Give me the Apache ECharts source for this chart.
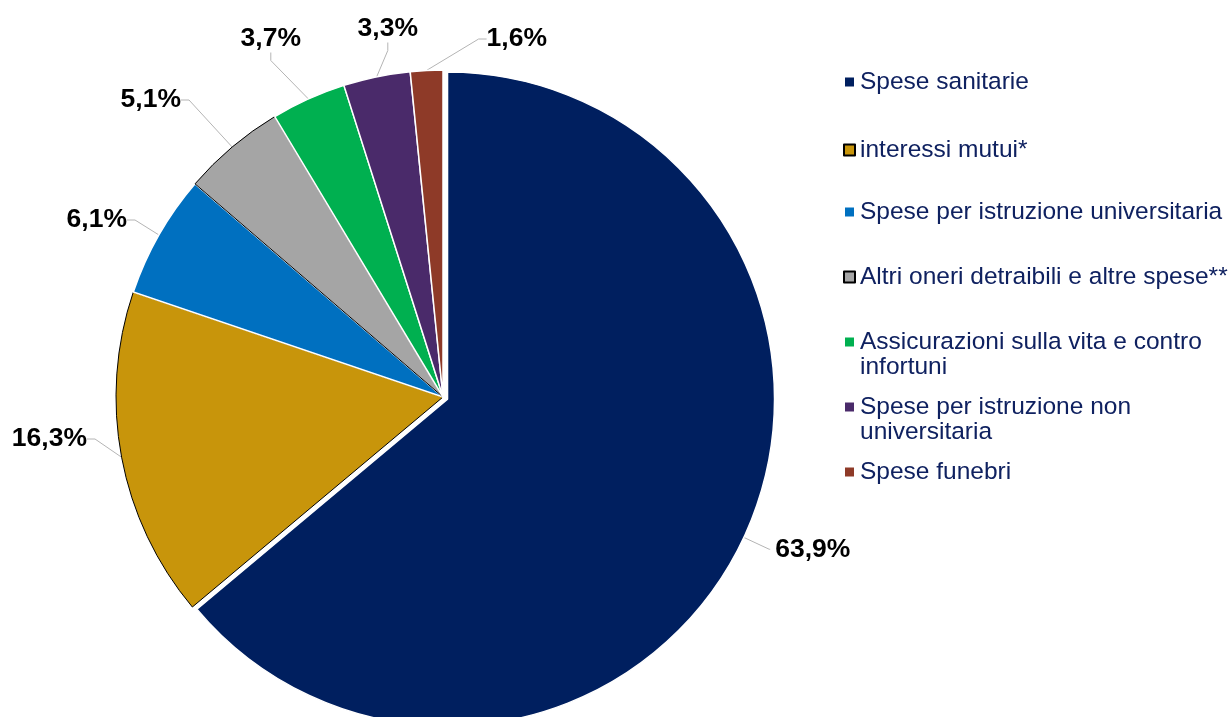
<!DOCTYPE html>
<html><head><meta charset="utf-8">
<script src="https://cdn.jsdelivr.net/npm/echarts@6/dist/echarts.min.js"></script>
<style>html,body{margin:0;padding:0;background:#fff}#c{width:1231px;height:717px}</style>
</head><body><div id="c"></div>
<script>
const categories = ["Spese sanitarie","interessi mutui*","Spese per istruzione universitaria","Altri oneri detraibili e altre spese**","Assicurazioni sulla vita e contro infortuni","Spese per istruzione non universitaria","Spese funebri"];
const values = [63.9,16.3,6.1,5.1,3.7,3.3,1.6];
const legendLines = [["Spese sanitarie"],["interessi mutui*"],["Spese per istruzione universitaria"],["Altri oneri detraibili e altre spese**"],["Assicurazioni sulla vita e contro","infortuni"],["Spese per istruzione non","universitaria"],["Spese funebri"]];

const colors = ["#001F5F","#C8950B","#0070C0","#A5A5A5","#00B050","#4A2A6A","#8E3A28"];
const borderColors = ["#ffffff","#000000","#ffffff","#000000","#ffffff","#ffffff","#ffffff"];
const legendLineY = [80,148,210,275,340,405,470];
// label anchor: right edge x, middle y (index 0 uses the library's own placement)
const labelPos = [null,[87,439],[127,220],[181,100],[301,39],[418,29],[547,39]];

const font = 'Liberation Sans, Arial';
const legendColor = '#0F2160';
const chart = echarts.init(document.getElementById('c'));
const data = categories.map((n,i)=>({
  name:n, value:values[i], selected:i===0,
  itemStyle:{color:colors[i],borderColor:borderColors[i],borderWidth:borderColors[i]==="#000000"?1:1.5},
  labelLine: i===0 ? {length:28, length2:1} : undefined
}));
const legends = categories.map((n,i)=>({
  data:[n], orient:'vertical', left:838, top:legendLineY[i]-17,
  icon:'rect', itemWidth:11, itemHeight:11, itemGap:0,
  textStyle:{fontFamily:font, fontSize:24.5, color:legendColor, lineHeight:28},
  formatter: name => legendLines[categories.indexOf(name)][0],
  selectedMode:false
}));
const extra = [];
legendLines.forEach((lines,i)=>{
  lines.slice(1).forEach((t,j)=>{
    extra.push({type:'text', left:860, top:legendLineY[i]+27*(j+1)-14,
      style:{text:t, fontFamily:font, fontSize:24.5, fill:legendColor, lineHeight:28}});
  });
});
chart.setOption({
  animation:false,
  legend:legends,
  graphic:extra,
  series:[{
    type:'pie', center:[443,397], radius:327, startAngle:90, clockwise:true,
    selectedMode:'single', selectedOffset:5,
    data:data,
    label:{show:true, position:'outside', formatter:p=>p.value.toFixed(1).replace('.',',')+'%',
      fontFamily:font, fontWeight:'bold', fontSize:26.5, color:'#000'},
    labelLine:{show:true, length:18, length2:8, lineStyle:{color:'#B4B4B4',width:1}},
    labelLayout: p => labelPos[p.dataIndex] ? ({x:labelPos[p.dataIndex][0], y:labelPos[p.dataIndex][1], align:'right', verticalAlign:'middle'}) : {},
    emphasis:{disabled:true}
  }]
});
</script></body></html>
